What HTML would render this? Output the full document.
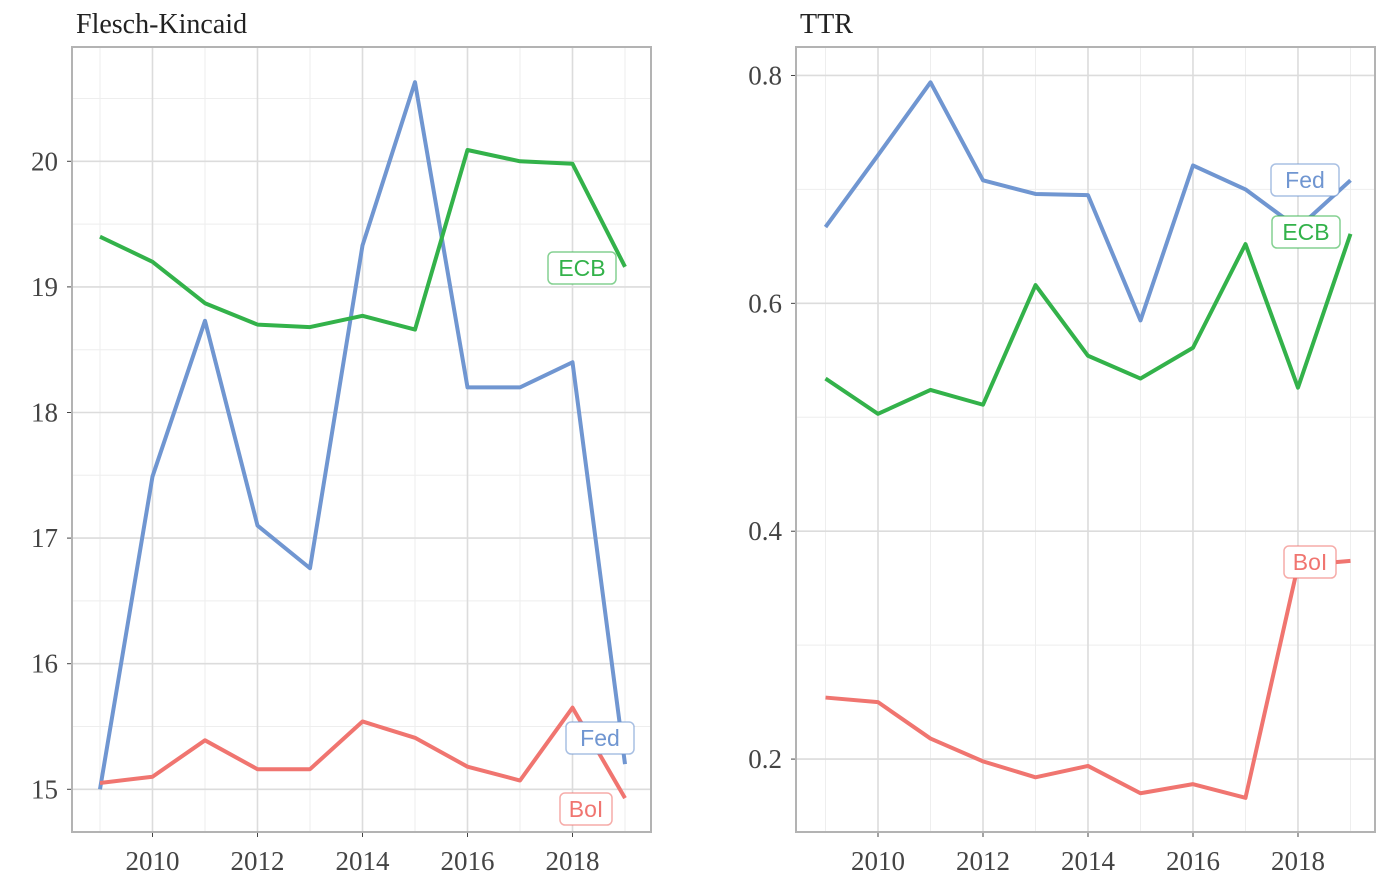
<!DOCTYPE html>
<html><head><meta charset="utf-8">
<style>
body{margin:0;background:#fff;}
svg{display:block;}
</style></head>
<body>
<svg id="chart" width="1386" height="891"></svg>
<script>
const years = [2009,2010,2011,2012,2013,2014,2015,2016,2017,2018,2019];
const fkFed = [15.0,17.49,18.73,17.1,16.76,19.33,20.63,18.2,18.2,18.4,15.2];
const fkEcb = [19.4,19.2,18.87,18.7,18.68,18.77,18.66,20.09,20.0,19.98,19.16];
const fkBoi = [15.05,15.1,15.39,15.16,15.16,15.54,15.41,15.18,15.07,15.65,14.93];
const ttrFed = [0.667,0.73,0.794,0.708,0.696,0.695,0.585,0.721,0.70,0.666,0.708];
const ttrEcb = [0.534,0.503,0.524,0.511,0.616,0.554,0.534,0.561,0.652,0.526,0.661];
const ttrBoi = [0.254,0.250,0.218,0.198,0.184,0.194,0.170,0.178,0.166,0.37,0.374];
const xTicks = [2010,2012,2014,2016,2018];
const fkTicks = [15,16,17,18,19,20];
const ttrTicks = [0.2,0.4,0.6,0.8];

const NS="http://www.w3.org/2000/svg";
const svg=document.getElementById('chart');
function mk(tag,attrs,parent){const e=document.createElementNS(NS,tag);for(const k in attrs)e.setAttribute(k,attrs[k]);(parent||svg).appendChild(e);return e;}
const COL={Fed:'#7096d1',ECB:'#33b24a',BoI:'#f07570'};
const FONT='"Liberation Serif", serif';

function panel(cfg){
  const g=mk('g',{});
  
  
  const L=cfg.x0,R=cfg.x1,T=47,B=832;
  const xs=v=>L+(v-cfg.xmin)/(cfg.xmax-cfg.xmin)*(R-L);
  const ys=v=>B-(v-cfg.ymin)/(cfg.ymax-cfg.ymin)*(B-T);
  for(let y=2009;y<=2019;y+=2){const l=mk('line',{x1:xs(y),x2:xs(y),y1:T,y2:B,stroke:'#eeeeee','stroke-width':1},g);}
  cfg.ticks.forEach((t,i)=>{const m=t+cfg.step/2;const l=mk('line',{x1:L,x2:R,y1:ys(m),y2:ys(m),stroke:'#eeeeee','stroke-width':1},g);
    if(i===0){const m2=t-cfg.step/2;if(m2>cfg.ymin){const l2=mk('line',{x1:L,x2:R,y1:ys(m2),y2:ys(m2),stroke:'#eeeeee','stroke-width':1},g);}}});
  xTicks.forEach(t=>{const l=mk('line',{x1:xs(t),x2:xs(t),y1:T,y2:B,stroke:'#dcdcdc','stroke-width':1.6},g);
    const tk=mk('line',{x1:xs(t),x2:xs(t),y1:B,y2:B+5,stroke:'#444','stroke-width':1},g);
    const tx=mk('text',{x:xs(t),y:B+38,'text-anchor':'middle','font-family':FONT,'font-size':27,fill:'#444'},g);tx.textContent=t;});
  cfg.ticks.forEach(t=>{const l=mk('line',{x1:L,x2:R,y1:ys(t),y2:ys(t),stroke:'#dcdcdc','stroke-width':1.6},g);
    const tk=mk('line',{x1:L-5,x2:L,y1:ys(t),y2:ys(t),stroke:'#444','stroke-width':1},g);
    const tx=mk('text',{x:L-14,y:ys(t)+9,'text-anchor':'end','font-family':FONT,'font-size':27,fill:'#444'},g);tx.textContent=cfg.fmt(t);});
  const fr=mk('rect',{x:L,y:T,width:R-L,height:B-T,fill:'none',stroke:'#b3b3b3','stroke-width':2},g);
  const ti=mk('text',{x:L+4,y:33,'font-family':FONT,'font-size':28,fill:'#222'},g);ti.textContent=cfg.title;
  cfg.series.forEach(s=>{
    const p=mk('polyline',{points:years.map((y,i)=>xs(y)+','+ys(s.v[i])).join(' '),fill:'none',stroke:COL[s.k],'stroke-width':4,'stroke-linejoin':'round'},g);
    
  });
  cfg.series.forEach(s=>{
    const lx=s.lx, ly=s.ly;
    const lg=mk('g',{},g);
    const w=s.k==='BoI'?52:68;
    mk('rect',{x:lx-w/2,y:ly-16,width:w,height:32,rx:5,fill:'#fff',stroke:COL[s.k],'stroke-opacity':0.6,'stroke-width':1.5},lg);
    const t=mk('text',{x:lx,y:ly+8,'text-anchor':'middle','font-family':'"Liberation Sans", sans-serif','font-size':23,fill:COL[s.k]},lg);t.textContent=s.k;
  });
}
panel({name:'flesch-kincaid-panel',title:'Flesch-Kincaid',x0:72,x1:651,xmin:2008.467,xmax:2019.495,ymin:14.66,ymax:20.91,ticks:fkTicks,step:1,fmt:t=>String(t),
  series:[{k:'Fed',v:fkFed,lx:600,ly:738},{k:'ECB',v:fkEcb,lx:582,ly:268},{k:'BoI',v:fkBoi,lx:586,ly:809}]});
panel({name:'ttr-panel',title:'TTR',x0:796,x1:1375,xmin:2008.438,xmax:2019.467,ymin:0.136,ymax:0.825,ticks:ttrTicks,step:0.2,fmt:t=>t.toFixed(1),
  series:[{k:'Fed',v:ttrFed,lx:1305,ly:180},{k:'ECB',v:ttrEcb,lx:1306,ly:232},{k:'BoI',v:ttrBoi,lx:1310,ly:562}]});
</script>
</body></html>
